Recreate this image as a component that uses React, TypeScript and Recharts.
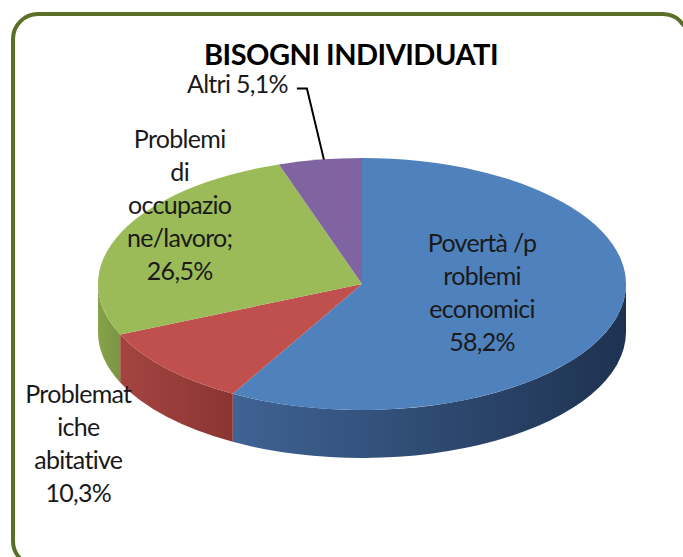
import React from 'react';
import { PieChart, Pie, Cell } from 'recharts';

const title = 'BISOGNI INDIVIDUATI';
const categories = [
  'Povertà /problemi economici',
  'Problematiche abitative',
  'Problemi di occupazione/lavoro',
  'Altri',
];
const values = [58.2, 10.3, 26.5, 5.1];
const labelLines = [
  ['Povertà /p', 'roblemi', 'economici', '58,2%'],
  ['Problemat', 'iche', 'abitative', '10,3%'],
  ['Problemi', 'di', 'occupazio', 'ne/lavoro;', '26,5%'],
  ['Altri 5,1%'],
];

const TOP_COLORS = ['#4F81BD', '#C0504D', '#9BBB59', '#8064A2'];
const WALL_COLORS = [
  ['#3F6394', '#1E3250'],
  ['#A44441', '#8A3532'],
  ['#86A34A', '#7A9443'],
  ['#6E568C', '#5A4673'],
];

const W = 683;
const H = 557;
const CX = 362;
const CY = 284;
const RX = 264;
const RY_RATIO = 126 / 264;
const DEPTH = 48;
const FONT = 'Lato, "Open Sans", sans-serif';
const LABEL_SIZE = 25;
const LABEL_SPACING = -0.7;
const LINE_GAP = 33;

// label layout relative to the slice mid-angle on the ellipse
const LABEL_LAYOUT = [
  { k: 0.47, dx: 0, dy: -7 },
  { k: 1.45, dx: 0, dy: 36 },
  { k: 0.756, dx: 0, dy: -41 },
  { k: 1.0, dx: -32, dy: -77 },
];

const data = categories.map((name, i) => ({ name, value: values[i], idx: i }));

function ellPt(cx: number, cy: number, rx: number, ry: number, deg: number) {
  const r = (deg * Math.PI) / 180;
  return [cx + rx * Math.cos(r), cy - ry * Math.sin(r)];
}

function Slice3D(props: any) {
  const { cx, cy, outerRadius, startAngle, endAngle, payload } = props;
  const idx = payload?.idx ?? props.index ?? 0;
  const rx = outerRadius;
  const ry = outerRadius * RY_RATIO;
  const hiA = Math.max(startAngle, endAngle);
  const loA = Math.min(startAngle, endAngle);
  const hi = Math.min(hiA, 0);
  const lo = Math.max(loA, -180);
  let wall = null;
  if (hi > lo) {
    const [x1, y1] = ellPt(cx, cy, rx, ry, hi);
    const [x2, y2] = ellPt(cx, cy, rx, ry, lo);
    const d = `M${x1},${y1} A${rx},${ry} 0 0 1 ${x2},${y2} L${x2},${y2 + DEPTH} A${rx},${ry} 0 0 0 ${x1},${y1 + DEPTH} Z`;
    wall = (
      <g>
        <defs>
          <linearGradient id={`wallgrad-${idx}`} x1="0" y1="0" x2="1" y2="0">
            <stop offset="0%" stopColor={WALL_COLORS[idx][0]} />
            <stop offset="100%" stopColor={WALL_COLORS[idx][1]} />
          </linearGradient>
        </defs>
        <path d={d} fill={`url(#wallgrad-${idx})`} stroke="none" />
      </g>
    );
  }
  const [xs, ys] = ellPt(cx, cy, rx, ry, hiA);
  const [xe, ye] = ellPt(cx, cy, rx, ry, loA);
  const large = hiA - loA > 180 ? 1 : 0;
  const top = `M${cx},${cy} L${xs},${ys} A${rx},${ry} 0 ${large} 1 ${xe},${ye} Z`;
  return (
    <g>
      {wall}
      <path d={top} fill={TOP_COLORS[idx]} stroke="none" />
    </g>
  );
}

function renderLabel(props: any) {
  const { cx, cy, midAngle, outerRadius, index } = props;
  const lay = LABEL_LAYOUT[index];
  const rx = outerRadius;
  const ry = outerRadius * RY_RATIO;
  const [px, py] = ellPt(cx, cy, rx * lay.k, ry * lay.k, midAngle);
  const lines = labelLines[index];
  if (lines.length === 1) {
    const tx = px + lay.dx;
    const ty = py + lay.dy;
    const [ex, ey] = ellPt(cx, cy, rx, ry, midAngle);
    return (
      <g>
        <text x={tx} y={ty} textAnchor="end" dominantBaseline="central" fontFamily={FONT} fontSize={LABEL_SIZE} letterSpacing={LABEL_SPACING} fill="#1a1a1a">
          {lines[0]}
        </text>
        <polyline
          points={`${tx + 9},${ty + 6} ${ex - 13},${ty + 6} ${ex + 4},${ey}`}
          fill="none"
          stroke="#000"
          strokeWidth={2}
        />
      </g>
    );
  }
  const x = px + lay.dx;
  const yc = py + lay.dy;
  const n = lines.length;
  return (
    <g>
      {lines.map((ln, i) => (
        <text
          key={i}
          x={x}
          y={yc + (i - (n - 1) / 2) * LINE_GAP}
          textAnchor="middle"
          dominantBaseline="central"
          fontFamily={FONT}
          fontSize={LABEL_SIZE}
          letterSpacing={LABEL_SPACING}
          fill="#1a1a1a"
        >
          {ln}
        </text>
      ))}
    </g>
  );
}

export default function App() {
  return (
    <div style={{ position: 'absolute', left: 0, top: 0, width: W, height: H, overflow: 'hidden', background: '#fff' }}>
      <svg width={W} height={H} style={{ position: 'absolute', left: 0, top: 0 }}>
        <path
          d="M 663 14 L 38 14 A 25 25 0 0 0 13 39 L 13 541 A 25 25 0 0 0 38 566"
          fill="none"
          stroke="#5A7027"
          strokeWidth={4}
        />
        <path d="M 663 14 A 25 25 0 0 1 684 26" fill="none" stroke="#5A7027" strokeWidth={4} />
      </svg>
      <div
        style={{
          position: 'absolute',
          left: 0,
          top: 34,
          width: 702,
          textAlign: 'center',
          fontFamily: FONT,
          fontWeight: 700,
          fontSize: 29,
          lineHeight: '40px',
          color: '#000',
          letterSpacing: -0.5,
        }}
      >
        {title}
      </div>
      <div style={{ position: 'absolute', left: 0, top: 0 }}>
        <PieChart width={W} height={H} margin={{ top: 0, right: 0, bottom: 0, left: 0 }}>
          <Pie
            data={data}
            dataKey="value"
            nameKey="name"
            cx={CX}
            cy={CY}
            outerRadius={RX}
            startAngle={90}
            endAngle={-270}
            stroke="none"
            isAnimationActive={false}
            shape={(p: any) => <Slice3D {...p} />}
            label={renderLabel}
            labelLine={false}
          >
            {data.map((d, i) => (
              <Cell key={i} fill={TOP_COLORS[i]} />
            ))}
          </Pie>
        </PieChart>
      </div>
    </div>
  );
}
